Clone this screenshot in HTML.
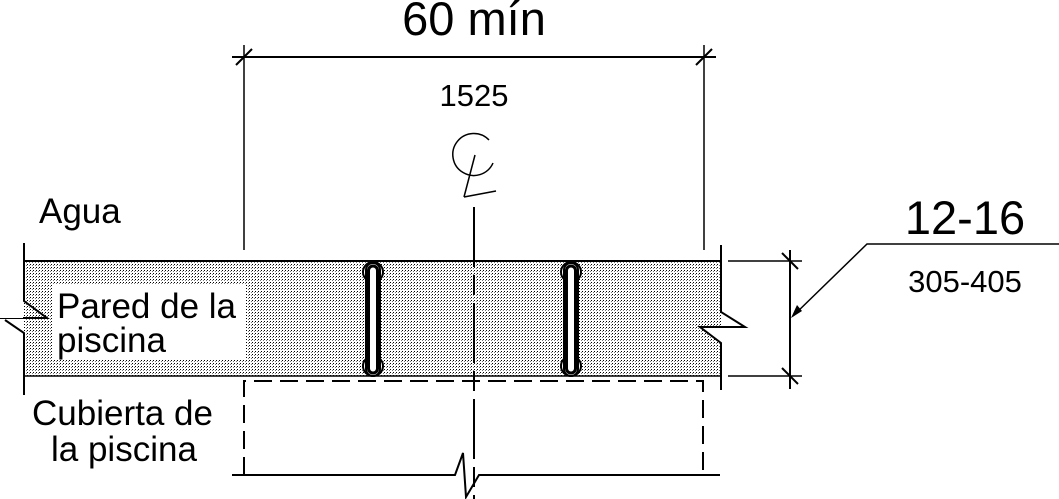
<!DOCTYPE html>
<html><head><meta charset="utf-8"><style>
html,body{margin:0;padding:0;background:#fff;}
svg{display:block;}
text{font-family:"Liberation Sans",sans-serif;fill:#000;}
</style></head><body>
<svg width="1059" height="499" viewBox="0 0 1059 499" xmlns="http://www.w3.org/2000/svg">
<defs>
<pattern id="dots" width="3" height="3" patternUnits="userSpaceOnUse">
<rect width="3" height="3" fill="#fff"/><rect x="0" y="0" width="1" height="1" fill="#000"/><rect x="2" y="1" width="1" height="1" fill="#777"/>
</pattern>
</defs>
<!-- wall -->
<rect x="24" y="261" width="697" height="115" fill="url(#dots)"/>
<line x1="24" y1="261" x2="721" y2="261" stroke="#000" stroke-width="2"/>
<line x1="24" y1="376" x2="721" y2="376" stroke="#000" stroke-width="1.5"/>
<!-- left break -->
<polyline points="24,243 24,301 47,318 0,318" fill="none" stroke="#000" stroke-width="2"/>
<polyline points="5,320 24,333 24,395" fill="none" stroke="#000" stroke-width="2"/>
<rect x="0" y="302" width="23" height="16" fill="#fff"/>
<!-- right break -->
<polygon points="721,312 745,327 700,327 721,343" fill="#fff"/>
<polyline points="721,245 721,312 745,327 700,327 721,343 721,390" fill="none" stroke="#000" stroke-width="2"/>
<!-- labels with white bg -->
<rect x="52" y="284" width="194" height="76" fill="#fff"/>
<text x="57" y="318" font-size="35">Pared de la</text>
<text x="57" y="352" font-size="35">piscina</text>
<text x="39" y="223" font-size="35">Agua</text>
<text x="32" y="425" font-size="35">Cubierta de</text>
<text x="51" y="461" font-size="35">la piscina</text>
<!-- top dimension -->
<text x="474" y="35" font-size="47" text-anchor="middle">60 mín</text>
<line x1="232" y1="57" x2="716" y2="57" stroke="#000" stroke-width="2"/>
<line x1="244" y1="45" x2="244" y2="250" stroke="#000" stroke-width="1.5"/>
<line x1="704" y1="45" x2="704" y2="250" stroke="#000" stroke-width="1.5"/>
<line x1="236" y1="65" x2="252" y2="49" stroke="#000" stroke-width="2"/>
<line x1="696" y1="65" x2="712" y2="49" stroke="#000" stroke-width="2"/>
<text x="474" y="106" font-size="31" text-anchor="middle">1525</text>
<!-- centerline symbol -->
<path d="M489,140 A21,21 0 1 0 493,163" fill="none" stroke="#000" stroke-width="1.5"/>
<line x1="475" y1="155" x2="464" y2="197" stroke="#000" stroke-width="1.5"/>
<line x1="464" y1="197" x2="496" y2="191" stroke="#000" stroke-width="1.5"/>
<line x1="474" y1="207" x2="474" y2="499" stroke="#000" stroke-width="2" stroke-dasharray="60,8,20,8"/>
<!-- deck dashed -->
<polyline points="244,475 244,381 703,381 703,475" fill="none" stroke="#000" stroke-width="2" stroke-dasharray="18,8"/>
<polyline points="232,475 455,475 463,453 466,497 479,475 720,475" fill="none" stroke="#000" stroke-width="2"/>
<!-- grab bars -->
<g fill="#fff" stroke="#000" stroke-width="2">
<circle cx="373" cy="272" r="10"/><circle cx="373" cy="366" r="10"/>
<rect x="366" y="263" width="14" height="113" rx="7"/>
<rect x="368.5" y="266" width="9" height="107" rx="4.5" stroke-width="3"/>
<circle cx="571" cy="272" r="10"/><circle cx="571" cy="366" r="10"/>
<rect x="564" y="263" width="14" height="113" rx="7"/>
<rect x="566.5" y="266" width="9" height="107" rx="4.5" stroke-width="3"/>
</g>
<!-- right dimension -->
<line x1="728" y1="261" x2="802" y2="261" stroke="#000" stroke-width="1.5"/>
<line x1="728" y1="376" x2="802" y2="376" stroke="#000" stroke-width="1.5"/>
<line x1="790" y1="250" x2="790" y2="389" stroke="#000" stroke-width="2"/>
<line x1="782" y1="253" x2="798" y2="269" stroke="#000" stroke-width="2"/>
<line x1="782" y1="368" x2="798" y2="384" stroke="#000" stroke-width="2"/>
<polyline points="1059,244 867,244 793,316" fill="none" stroke="#000" stroke-width="1.5"/>
<polygon points="791,318 797,305 802,311" fill="#000"/>
<text x="965" y="234" font-size="47" text-anchor="middle">12-16</text>
<text x="965" y="292" font-size="31" text-anchor="middle">305-405</text>
</svg>
</body></html>
